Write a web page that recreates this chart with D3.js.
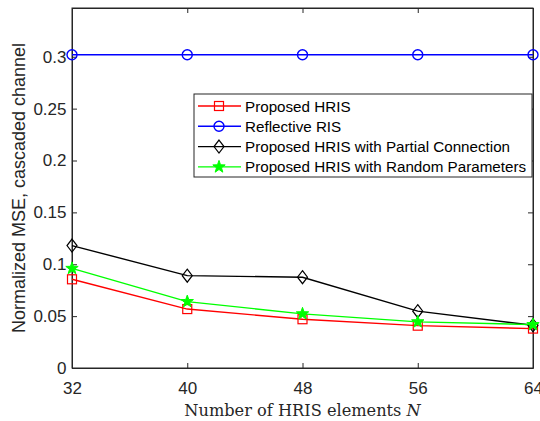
<!DOCTYPE html>
<html>
<head>
<meta charset="utf-8">
<script src="https://cdn.jsdelivr.net/npm/d3@7"></script>
<style>
  body { margin: 0; background: #fff; }
  svg { display: block; }
</style>
</head>
<body>
<div id="chart"></div>
<script>
// data
var nValues = [32, 40, 48, 56, 64];
var proposedHris = [0.0855, 0.0568, 0.0470, 0.0408, 0.0380];
var reflectiveRis = [0.302, 0.302, 0.302, 0.302, 0.302];
var partialConnection = [0.1180, 0.0890, 0.0875, 0.0548, 0.0412];
var randomParameters = [0.0960, 0.0640, 0.0522, 0.0445, 0.0418];
var yTicks = [0, 0.05, 0.1, 0.15, 0.2, 0.25, 0.3];
var xTicks = [32, 40, 48, 56, 64];

var svgWidth = 540;
var svgHeight = 421;
var margin = { top: 8, right: 7, bottom: 53, left: 72 };
var width = svgWidth - margin.left - margin.right;
var height = svgHeight - margin.top - margin.bottom;

var series = [
    { name: "Proposed HRIS", values: proposedHris, color: "#ff0000", marker: "square" },
    { name: "Reflective RIS", values: reflectiveRis, color: "#0000ff", marker: "circle" },
    { name: "Proposed HRIS with Partial Connection", values: partialConnection, color: "#000000", marker: "diamond" },
    { name: "Proposed HRIS with Random Parameters", values: randomParameters, color: "#00ff00", marker: "star" }
];

var svg = d3.select("#chart")
    .append("svg")
    .attr("width", svgWidth)
    .attr("height", svgHeight);

var chartGroup = svg.append("g")
    .attr("transform", `translate(${margin.left}, ${margin.top})`);

var xScale = d3.scaleLinear().domain([32, 64]).range([0, width]);
var yScale = d3.scaleLinear().domain([0, 0.347]).range([height, 0]);

var axisColor = "#262626";
var tickFont = "'Liberation Sans', Arial, sans-serif";

// axes (box on, ticks inside)
var bottomAxis = d3.axisBottom(xScale).tickValues(xTicks).tickSize(-5).tickPadding(14).tickSizeOuter(0);
var leftAxis = d3.axisLeft(yScale).tickValues(yTicks).tickSize(-5).tickPadding(5.5).tickSizeOuter(0)
    .tickFormat(d => d === 0 ? "0" : d3.format("")(d));

var xAxis = chartGroup.append("g")
    .attr("transform", `translate(0, ${height})`)
    .call(bottomAxis);
var yAxis = chartGroup.append("g")
    .call(leftAxis);

chartGroup.append("g")
    .call(d3.axisTop(xScale).tickValues(xTicks).tickSize(-5).tickFormat("").tickSizeOuter(0));
chartGroup.append("g")
    .attr("transform", `translate(${width}, 0)`)
    .call(d3.axisRight(yScale).tickValues(yTicks).tickSize(-5).tickFormat("").tickSizeOuter(0));

chartGroup.selectAll(".domain").attr("stroke", axisColor);
chartGroup.selectAll(".tick line").attr("stroke", axisColor);
chartGroup.selectAll(".tick text")
    .attr("font-family", tickFont)
    .attr("font-size", "17px")
    .attr("fill", "#262626");

chartGroup.append("rect")
    .attr("width", width)
    .attr("height", height)
    .attr("fill", "none")
    .attr("stroke", axisColor)
    .attr("stroke-width", 1);

// marker drawing
function drawMarker(g, type, color) {
    if (type === "square") {
        g.append("rect").attr("x", -4.5).attr("y", -4.5).attr("width", 9).attr("height", 9)
            .attr("fill", "none").attr("stroke", color).attr("stroke-width", 1.2);
    } else if (type === "circle") {
        g.append("circle").attr("r", 5)
            .attr("fill", "none").attr("stroke", color).attr("stroke-width", 1.4);
    } else if (type === "diamond") {
        g.append("path").attr("d", "M0,-6.5L5,0L0,6.5L-5,0Z")
            .attr("fill", "none").attr("stroke", color).attr("stroke-width", 1.2);
    } else {
        var pts = [];
        for (var i = 0; i < 10; i++) {
            var r = i % 2 === 0 ? 6.5 : 2.6;
            var a = -Math.PI / 2 + i * Math.PI / 5;
            pts.push([r * Math.cos(a), r * Math.sin(a)]);
        }
        g.append("path").attr("d", "M" + pts.join("L") + "Z")
            .attr("fill", color).attr("stroke", color).attr("stroke-width", 1);
    }
}

var line = d3.line()
    .x((d, i) => xScale(nValues[i]))
    .y(d => yScale(d));

series.forEach(function(s) {
    chartGroup.append("path")
        .datum(s.values)
        .attr("d", line)
        .attr("fill", "none")
        .attr("stroke", s.color)
        .attr("stroke-width", 1.4);
    s.values.forEach(function(v, i) {
        var g = chartGroup.append("g")
            .attr("transform", `translate(${xScale(nValues[i])}, ${yScale(v)})`);
        drawMarker(g, s.marker, s.color);
    });
});

// legend
var legend = chartGroup.append("g")
    .attr("transform", "translate(122, 86)");
legend.append("rect")
    .attr("width", 338)
    .attr("height", 83)
    .attr("fill", "#fff")
    .attr("stroke", axisColor)
    .attr("stroke-width", 1);

series.forEach(function(s, i) {
    var y = 12 + i * 20.3;
    var row = legend.append("g").attr("transform", `translate(0, ${y})`);
    row.append("line")
        .attr("x1", 4).attr("x2", 47)
        .attr("stroke", s.color).attr("stroke-width", 1.4);
    var m = row.append("g").attr("transform", "translate(25, 0)");
    drawMarker(m, s.marker, s.color);
    row.append("text")
        .attr("x", 51)
        .attr("y", 5.5)
        .attr("font-family", tickFont)
        .attr("font-size", "15.2px")
        .attr("fill", "#000")
        .text(s.name);
});

// axis labels
var xLabel = svg.append("text")
    .attr("x", margin.left + width / 2)
    .attr("y", 416)
    .attr("text-anchor", "middle")
    .attr("font-family", "'DejaVu Serif', 'Liberation Serif', serif")
    .attr("font-size", "16.2px")
    .attr("fill", "#262626");
xLabel.append("tspan").text("Number of HRIS elements ");
xLabel.append("tspan").attr("font-style", "italic").text("N");

svg.append("text")
    .attr("transform", `translate(25, ${margin.top + height / 2}) rotate(-90)`)
    .attr("text-anchor", "middle")
    .attr("font-family", tickFont)
    .attr("font-size", "18px")
    .attr("fill", "#262626")
    .text("Normalized MSE, cascaded channel");
</script>
</body>
</html>
